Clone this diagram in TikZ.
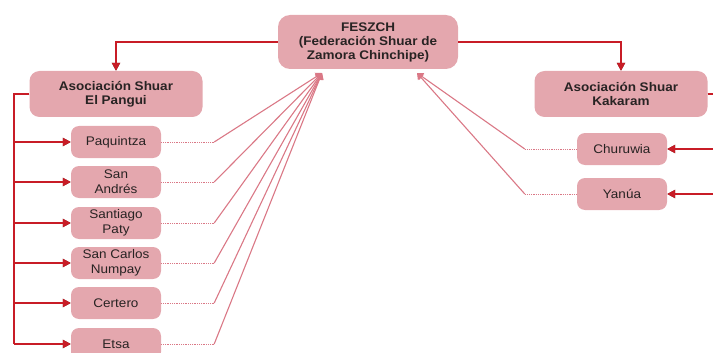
\documentclass[tikz,border=0pt]{standalone}
\usepackage{fontspec}
\setmainfont{Liberation Sans}[FakeStretch=1.08]
\usetikzlibrary{arrows.meta}
\definecolor{boxpink}{RGB}{228,167,174}
\definecolor{linkpink}{RGB}{218,120,134}
\definecolor{arrred}{RGB}{200,28,38}
\definecolor{arrdark}{RGB}{95,35,35}
\definecolor{txt}{RGB}{40,35,35}
\begin{document}
\begin{tikzpicture}[x=1pt,y=-1pt,
 box/.style={fill=boxpink, rounded corners=8pt, text=txt, align=center, inner sep=0pt, font=\fontsize{12.5}{15}\selectfont},
 smallbox/.style={box, minimum width=90pt, minimum height=32pt},
 bigbox/.style={box, minimum width=173pt, minimum height=46pt, rounded corners=10pt, font=\fontsize{12.5}{14}\selectfont\bfseries},
 redline/.style={draw=arrred, line width=1.7pt, preaction={draw=arrdark, line width=2.8pt}},
 redarr/.style={redline, -{Triangle[length=8pt,width=8pt]}},
 link/.style={draw=linkpink, line width=1.1pt, -{Triangle[length=6pt,width=8pt]}},
 dots/.style={draw=linkpink, line width=1pt, dash pattern=on 1pt off 0.8pt}
]
\useasboundingbox (0,0) rectangle (713,353);

\node[bigbox, minimum width=180pt, minimum height=54pt, rounded corners=12pt] (fes) at (368,42) {FESZCH\\(Federación Shuar de\\Zamora Chinchipe)};
\node[bigbox] (pangui) at (116,94) {Asociación Shuar\\El Pangui};
\node[bigbox] (kak) at (621,94) {Asociación Shuar\\Kakaram};

\node[smallbox] (p1) at (116,142) {Paquintza};
\node[smallbox] (p2) at (116,182) {San\\Andrés};
\node[smallbox] (p3) at (116,223) {Santiago\\Paty};
\node[smallbox] (p4) at (116,263) {San Carlos\\Numpay};
\node[smallbox] (p5) at (116,303) {Certero};
\node[smallbox] (p6) at (116,344) {Etsa};

\node[smallbox] (r1) at (622,149) {Churuwia};
\node[smallbox] (r2) at (622,194) {Yanúa};

% red hierarchy connectors
\draw[redarr] (fes.west) -| (pangui.north);
\draw[redarr] (fes.east) -| (kak.north);

\coordinate (trunk) at (14,94);
\coordinate (trunkend) at (14,344);
\draw[redline] (pangui.west) -- (trunk) -- (trunkend);
\foreach \n in {p1,p2,p3,p4,p5,p6}{
  \draw[redarr] (trunk |- \n.west) -- (\n.west);
}

\coordinate (kend) at (714,94);
\draw[redline] (kak.east) -- (kend);
\coordinate (r1e) at (714,149);
\coordinate (r2e) at (714,194);
\draw[redarr] (r1e) -- (r1.east);
\draw[redarr] (r2e) -- (r2.east);

% pink links to FESZCH
\coordinate (fesL) at (322,73);
\coordinate (fesR) at (417,73);
\foreach \n in {p1,p2,p3,p4,p5,p6}{
  \draw[dots] (\n.east) -- ++(53,0) coordinate (b\n);
  \draw[link] (b\n) -- (fesL);
}
\foreach \n in {r1,r2}{
  \draw[dots] (\n.west) -- ++(-52,0) coordinate (c\n);
  \draw[link] (c\n) -- (fesR);
}
\end{tikzpicture}
\end{document}
